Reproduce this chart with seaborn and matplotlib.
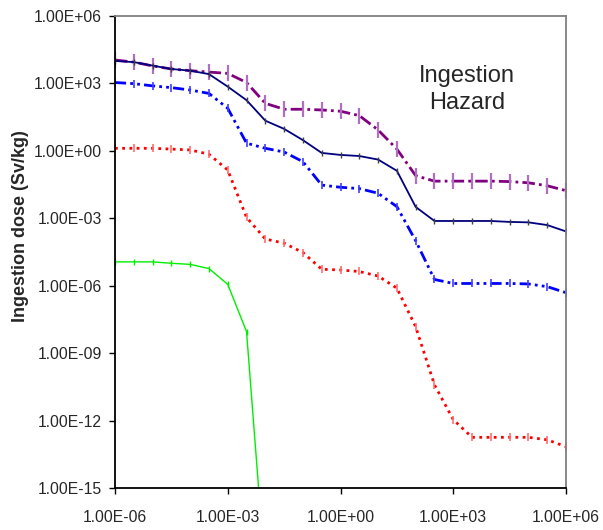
import numpy as np
import pandas as pd
import seaborn as sns
import matplotlib.pyplot as plt
from matplotlib.ticker import FixedLocator, FuncFormatter, NullLocator

# time axis, half-decade steps
time_vals = [1.0e-6, 3.16e-6, 1.0e-5, 3.16e-5, 1.0e-4, 3.16e-4, 1.0e-3, 3.16e-3,
             1.0e-2, 3.16e-2, 1.0e-1, 3.16e-1, 1.0e0, 3.16e0, 1.0e1, 3.16e1,
             1.0e2, 3.16e2, 1.0e3, 3.16e3, 1.0e4, 3.16e4, 1.0e5, 3.16e5, 1.0e6]

purple_dose = [1.1e4, 8.9e3, 6.0e3, 4.4e3, 3.7e3, 3.2e3, 2.8e3, 1.1e3, 1.3e2, 71.0,
               71.0, 66.0, 58.0, 37.0, 8.5, 1.2, 7.9e-2, 4.5e-2, 4.5e-2, 4.5e-2,
               4.5e-2, 4.3e-2, 3.8e-2, 2.8e-2, 1.7e-2]
navy_dose = [1.0e4, 8.9e3, 6.2e3, 4.4e3, 3.7e3, 2.6e3, 7.2e2, 1.8e2, 22.0, 9.5,
             3.0, 0.81, 0.66, 0.59, 0.41, 0.13, 3.2e-3, 7.6e-4, 7.6e-4, 7.6e-4,
             7.6e-4, 6.9e-4, 6.6e-4, 5.0e-4, 2.6e-4]
blue_dose = [1.1e3, 9.8e2, 7.8e2, 6.5e2, 5.1e2, 3.6e2, 78.0, 2.2, 1.3, 0.89,
             0.33, 3.0e-2, 2.4e-2, 2.1e-2, 1.3e-2, 3.3e-3, 1.0e-4, 1.9e-6, 1.26e-6, 1.26e-6,
             1.26e-6, 1.26e-6, 1.2e-6, 9.1e-7, 4.9e-7]
red_dose = [1.3, 1.3, 1.3, 1.2, 1.1, 0.71, 0.14, 1.1e-3, 1.2e-4, 7.8e-5,
            3.0e-5, 5.4e-6, 5.0e-6, 4.3e-6, 2.7e-6, 7.8e-7, 1.5e-8, 3.9e-11, 1.1e-12, 1.8e-13,
            1.8e-13, 1.8e-13, 1.8e-13, 1.4e-13, 6.9e-14]
green_dose = [1.15e-5, 1.15e-5, 1.15e-5, 1.0e-5, 8.9e-6, 5.8e-6, 1.15e-6, 9.1e-9, 1.3e-19]

tick_vals = [1.0e-6, 1.0e-3, 1.0e0, 1.0e3, 1.0e6]
ytick_vals = [1.0e-15, 1.0e-12, 1.0e-9, 1.0e-6, 1.0e-3, 1.0e0, 1.0e3, 1.0e6]

sns.set_style("white")
plt.rcParams['font.family'] = ['Liberation Sans', 'DejaVu Sans']

fig = plt.figure(figsize=(6.03, 5.30), dpi=100)
ax = fig.add_axes([0.1907, 0.0792, 0.748, 0.8906])

series = [
    (purple_dose, "#800080", (0, (4.5, 1.5, 1, 1.5)), 2.0, "#b070c0", 12, 1.6),
    (navy_dose, "#000080", "-", 1.3, "#404040", 5, 1.0),
    (blue_dose, "#0000ff", (0, (4, 1.5, 1, 1.5, 1, 1.5)), 2.0, "#4040ff", 6, 1.2),
    (red_dose, "#ff0000", (0, (1, 1.6)), 2.0, "#ff7070", 6, 1.2),
    (green_dose, "#00ee00", "-", 1.0, "#00ee00", 5, 1.0),
]
for dose, col, ls, lw, mcol, ms, mew in series:
    df = pd.DataFrame({"time": time_vals[:len(dose)], "dose": dose})
    sns.lineplot(data=df, x="time", y="dose", ax=ax, color=col, linestyle=ls,
                 linewidth=lw, marker="|", markersize=ms, markeredgecolor=mcol,
                 markeredgewidth=mew, estimator=None, sort=False)

ax.set_xscale("log")
ax.set_yscale("log")
ax.set_xlim(1e-6, 1e6)
ax.set_ylim(1e-15, 1e6)

fmt = FuncFormatter(lambda v, p: f"{v:.2E}")
ax.xaxis.set_major_locator(FixedLocator(tick_vals))
ax.yaxis.set_major_locator(FixedLocator(ytick_vals))
ax.xaxis.set_minor_locator(NullLocator())
ax.yaxis.set_minor_locator(NullLocator())
ax.xaxis.set_major_formatter(fmt)
ax.yaxis.set_major_formatter(fmt)
ax.tick_params(axis="both", which="major", direction="out", length=4.5, width=1.0,
               color="black", labelsize=11.3, bottom=True, left=True)
ax.tick_params(axis="x", pad=11)
ax.tick_params(axis="y", pad=5)

for side in ["left", "bottom"]:
    ax.spines[side].set_color("black")
    ax.spines[side].set_linewidth(1.3)
for side in ["top", "right"]:
    ax.spines[side].set_color("#808080")
    ax.spines[side].set_linewidth(1.3)

ax.set_xlabel("")
ax.set_ylabel("Ingestion dose (Sv/kg)", fontsize=13, fontweight="bold")
ax.yaxis.set_label_coords(-0.19, 0.555)

ax.text(0.78, 0.845, "Ingestion\nHazard", transform=ax.transAxes, ha="center",
        va="center", fontsize=17, linespacing=1.3)

fig.savefig("out.png", dpi=100)
